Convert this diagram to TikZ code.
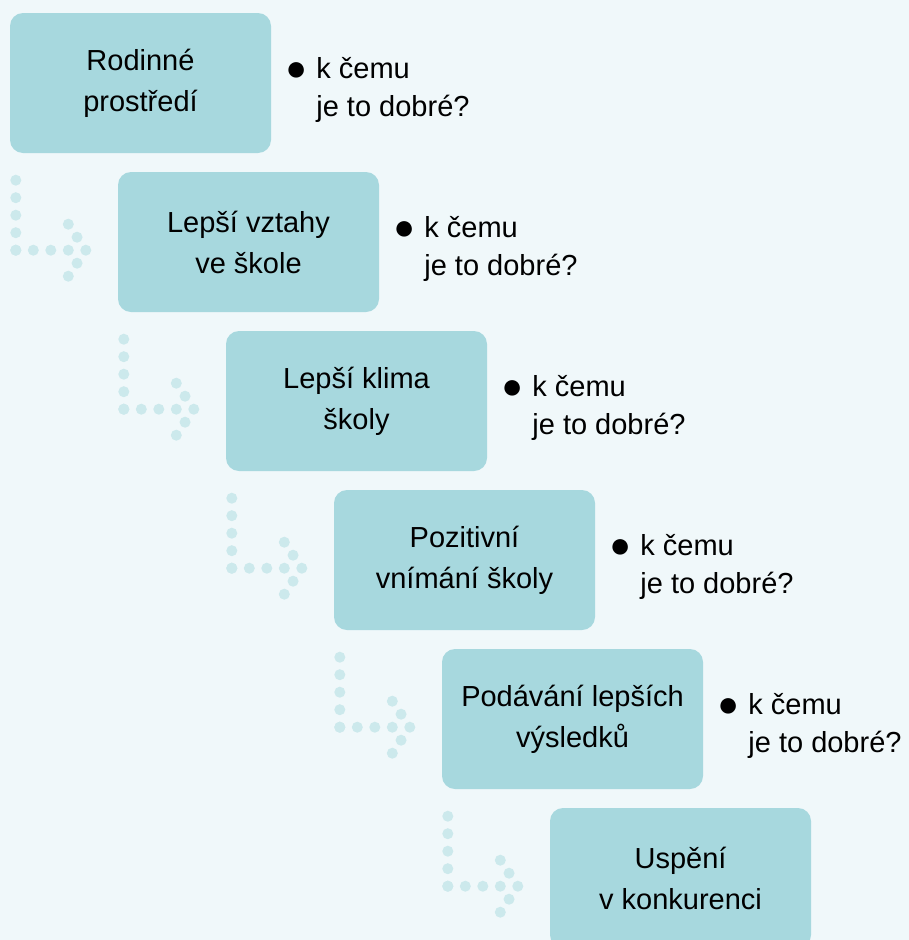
\documentclass[tikz,border=0pt]{standalone}
\usepackage{fontspec}
\setmainfont{Liberation Sans}
\usetikzlibrary{calc, positioning}

\begin{document}
\begin{tikzpicture}[x=1pt,y=-1pt,
  stepbox/.style={fill=boxteal,rounded corners=13pt,minimum width=261pt,
    minimum height=140pt,inner sep=0pt,align=center,
    font=\fontsize{29}{41}\selectfont},
  notetext/.style={inner sep=0pt,align=left,
    font=\fontsize{29}{38}\selectfont},
  stepdot/.style={fill=dotteal}]
\definecolor{bgtint}{RGB}{240,248,250}
\definecolor{boxteal}{RGB}{167,216,222}
\definecolor{dotteal}{RGB}{204,233,236}

% Canvas of the slide.
\fill[bgtint] (0,0) rectangle (909,940);
\clip (0,0) rectangle (909,940);

% The chain of steps, each one shifted down and right.
\node[stepbox] (b1) at (140.5,83) {Rodinné\\prostředí};
\node[stepbox] (b2) at (248.5,242) {Lepší vztahy\\ve škole};
\node[stepbox] (b3) at (356.5,401) {Lepší klima\\školy};
\node[stepbox] (b4) at (464.5,560) {Pozitivní\\vnímání školy};
\node[stepbox] (b5) at (572.5,719) {Podávání lepších\\výsledků};
\node[stepbox] (b6) at (680.5,878) {Uspění\\v konkurenci};

% The same question beside every step but the last.
\foreach \k in {1,...,5}
  \node[notetext,right=14pt of b\k,yshift=-6.5pt] (n\k)
    {\makebox[31pt][l]{\fontsize{36}{36}\selectfont\raisebox{-2pt}{●}}k čemu\\
     \hspace*{31pt}je to dobré?};

% Dotted bent arrows leading from one step to the next.
\foreach \k in {1,...,5} {
  \coordinate (c\k) at ($(b\k.south west)+(6,97)$);
  \foreach \d in {0,...,4} {
    \fill[stepdot] ($(c\k)+(0,-17.5*\d)$) circle[radius=5.5];
    \fill[stepdot] ($(c\k)+(17.5*\d,0)$) circle[radius=5.5];
  }
  \foreach \dx/\dy in {52.5/-26,61.25/-13,61.25/13,52.5/26}
    \fill[stepdot] ($(c\k)+(\dx,\dy)$) circle[radius=5.5];
}
\end{tikzpicture}
\end{document}
